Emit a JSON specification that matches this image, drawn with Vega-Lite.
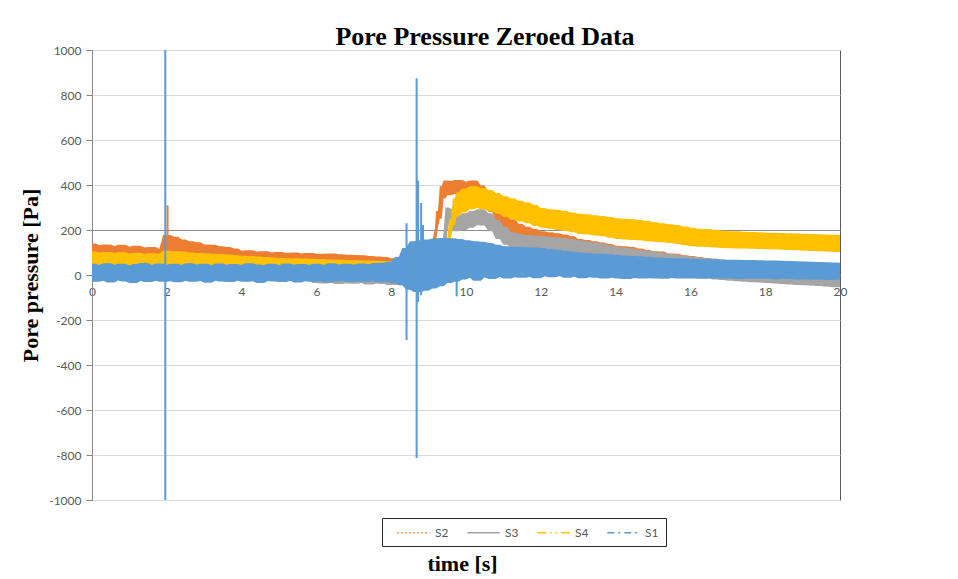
{
  "$schema": "https://vega.github.io/schema/vega-lite/v6.json",
  "width": 748,
  "height": 450,
  "autosize": "none",
  "padding": {"left": 92, "top": 50, "right": 118, "bottom": 79},
  "background": "white",
  "title": {"text": "Pore Pressure Zeroed Data", "font": "Liberation Serif", "fontSize": 26, "fontWeight": "bold", "color": "black", "anchor": "middle", "frame": "group", "dx": 19, "dy": 28, "offset": 1, "baseline": "alphabetic"},
  "config": {"view": {"stroke": "#595959", "strokeWidth": 1}},
  "datasets": {
    "noise": [
      {"t":0.0,"S1":50,"S2":140,"S3":-20,"S4":104},
      {"t":0.1,"S1":-30,"S2":86,"S3":32,"S4":36},
      {"t":0.2,"S1":44,"S2":132,"S3":-24,"S4":100},
      {"t":0.3,"S1":-26,"S2":90,"S3":28,"S4":40},
      {"t":0.4,"S1":52,"S2":136,"S3":-18,"S4":102},
      {"t":0.5,"S1":-33,"S2":84,"S3":30,"S4":34},
      {"t":0.6,"S1":46,"S2":128,"S3":-22,"S4":98},
      {"t":0.7,"S1":-24,"S2":88,"S3":26,"S4":38},
      {"t":0.8,"S1":50,"S2":134,"S3":-20,"S4":101},
      {"t":0.9,"S1":-29,"S2":82,"S3":31,"S4":35},
      {"t":1.0,"S1":42,"S2":126,"S3":-25,"S4":96},
      {"t":1.1,"S1":-35,"S2":86,"S3":27,"S4":37},
      {"t":1.2,"S1":49,"S2":130,"S3":-19,"S4":99},
      {"t":1.3,"S1":-27,"S2":84,"S3":29,"S4":33},
      {"t":1.4,"S1":53,"S2":122,"S3":-23,"S4":95},
      {"t":1.5,"S1":-31,"S2":80,"S3":25,"S4":36},
      {"t":1.6,"S1":45,"S2":124,"S3":-21,"S4":97},
      {"t":1.7,"S1":-25,"S2":82,"S3":30,"S4":32},
      {"t":1.8,"S1":51,"S2":116,"S3":-18,"S4":93},
      {"t":1.9,"S1":-30,"S2":78,"S3":27,"S4":34},
      {"t":2.0,"S1":46,"S2":178,"S3":-22,"S4":108},
      {"t":2.1,"S1":-28,"S2":95,"S3":28,"S4":40},
      {"t":2.2,"S1":50,"S2":170,"S3":-20,"S4":106},
      {"t":2.3,"S1":-32,"S2":92,"S3":30,"S4":36},
      {"t":2.4,"S1":44,"S2":158,"S3":-24,"S4":104},
      {"t":2.5,"S1":-26,"S2":90,"S3":26,"S4":38},
      {"t":2.6,"S1":52,"S2":150,"S3":-19,"S4":100},
      {"t":2.7,"S1":-30,"S2":86,"S3":29,"S4":34},
      {"t":2.8,"S1":47,"S2":146,"S3":-22,"S4":98},
      {"t":2.9,"S1":-27,"S2":88,"S3":27,"S4":36},
      {"t":3.0,"S1":50,"S2":136,"S3":-20,"S4":97},
      {"t":3.1,"S1":-34,"S2":84,"S3":31,"S4":32},
      {"t":3.2,"S1":43,"S2":134,"S3":-23,"S4":95},
      {"t":3.3,"S1":-25,"S2":82,"S3":26,"S4":35},
      {"t":3.4,"S1":51,"S2":128,"S3":-19,"S4":93},
      {"t":3.5,"S1":-29,"S2":80,"S3":28,"S4":30},
      {"t":3.6,"S1":46,"S2":124,"S3":-24,"S4":91},
      {"t":3.7,"S1":-31,"S2":78,"S3":25,"S4":33},
      {"t":3.8,"S1":49,"S2":118,"S3":-21,"S4":89},
      {"t":3.9,"S1":-26,"S2":76,"S3":29,"S4":28},
      {"t":4.0,"S1":44,"S2":108,"S3":-20,"S4":86},
      {"t":4.1,"S1":-30,"S2":74,"S3":27,"S4":30},
      {"t":4.2,"S1":52,"S2":110,"S3":-23,"S4":84},
      {"t":4.3,"S1":-28,"S2":72,"S3":25,"S4":26},
      {"t":4.4,"S1":47,"S2":104,"S3":-19,"S4":82},
      {"t":4.5,"S1":-36,"S2":70,"S3":28,"S4":28},
      {"t":4.6,"S1":45,"S2":106,"S3":-22,"S4":80},
      {"t":4.7,"S1":-27,"S2":70,"S3":26,"S4":25},
      {"t":4.8,"S1":50,"S2":100,"S3":-21,"S4":78},
      {"t":4.9,"S1":-29,"S2":68,"S3":29,"S4":27},
      {"t":5.0,"S1":43,"S2":102,"S3":-24,"S4":76},
      {"t":5.1,"S1":-31,"S2":66,"S3":24,"S4":22},
      {"t":5.2,"S1":51,"S2":98,"S3":-20,"S4":75},
      {"t":5.3,"S1":-26,"S2":66,"S3":27,"S4":24},
      {"t":5.4,"S1":46,"S2":100,"S3":-22,"S4":74},
      {"t":5.5,"S1":-33,"S2":64,"S3":25,"S4":21},
      {"t":5.6,"S1":49,"S2":96,"S3":-19,"S4":73},
      {"t":5.7,"S1":-28,"S2":64,"S3":28,"S4":23},
      {"t":5.8,"S1":44,"S2":98,"S3":-23,"S4":72},
      {"t":5.9,"S1":-30,"S2":62,"S3":26,"S4":20},
      {"t":6.0,"S1":50,"S2":95,"S3":-36,"S4":71},
      {"t":6.1,"S1":-27,"S2":62,"S3":28,"S4":19},
      {"t":6.2,"S1":45,"S2":94,"S3":-38,"S4":70},
      {"t":6.3,"S1":-32,"S2":60,"S3":25,"S4":21},
      {"t":6.4,"S1":52,"S2":96,"S3":-35,"S4":69},
      {"t":6.5,"S1":-29,"S2":60,"S3":30,"S4":18},
      {"t":6.6,"S1":47,"S2":92,"S3":-40,"S4":68},
      {"t":6.7,"S1":-26,"S2":58,"S3":26,"S4":16},
      {"t":6.8,"S1":50,"S2":90,"S3":-37,"S4":67},
      {"t":6.9,"S1":-31,"S2":58,"S3":28,"S4":18},
      {"t":7.0,"S1":46,"S2":89,"S3":-39,"S4":66},
      {"t":7.1,"S1":-28,"S2":56,"S3":25,"S4":14},
      {"t":7.2,"S1":51,"S2":88,"S3":-36,"S4":65},
      {"t":7.3,"S1":-30,"S2":56,"S3":29,"S4":15},
      {"t":7.4,"S1":48,"S2":84,"S3":-42,"S4":64},
      {"t":7.5,"S1":-27,"S2":54,"S3":26,"S4":12},
      {"t":7.6,"S1":53,"S2":82,"S3":-38,"S4":63},
      {"t":7.7,"S1":-32,"S2":54,"S3":28,"S4":13},
      {"t":7.8,"S1":55,"S2":80,"S3":-40,"S4":62},
      {"t":7.9,"S1":-30,"S2":52,"S3":27,"S4":10},
      {"t":8.0,"S1":60,"S2":74,"S3":-44,"S4":61},
      {"t":8.1,"S1":-35,"S2":50,"S3":30,"S4":12},
      {"t":8.2,"S1":80,"S2":72,"S3":-42,"S4":60},
      {"t":8.3,"S1":-45,"S2":50,"S3":32,"S4":10},
      {"t":8.4,"S1":120,"S2":70,"S3":-45,"S4":62},
      {"t":8.5,"S1":-65,"S2":48,"S3":35,"S4":8},
      {"t":8.6,"S1":150,"S2":72,"S3":-46,"S4":62},
      {"t":8.7,"S1":-75,"S2":48,"S3":34,"S4":6},
      {"t":8.8,"S1":155,"S2":70,"S3":-45,"S4":60},
      {"t":8.9,"S1":-70,"S2":46,"S3":36,"S4":8},
      {"t":9.0,"S1":158,"S2":72,"S3":-44,"S4":62},
      {"t":9.1,"S1":-60,"S2":48,"S3":38,"S4":6},
      {"t":9.17,"S2":150},
      {"t":9.2,"S1":162,"S2":210,"S3":-40,"S4":60},
      {"t":9.25,"S2":285},
      {"t":9.3,"S1":-50,"S2":250,"S3":40,"S4":5},
      {"t":9.35,"S2":395},
      {"t":9.4,"S1":165,"S2":340,"S3":-35,"S4":62},
      {"t":9.45,"S2":420,"S3":190},
      {"t":9.5,"S1":-35,"S2":355,"S3":300,"S4":40},
      {"t":9.55,"S3":230,"S4":160},
      {"t":9.6,"S1":163,"S2":418,"S3":295,"S4":250},
      {"t":9.65,"S4":220},
      {"t":9.7,"S1":-30,"S2":360,"S3":195,"S4":340},
      {"t":9.75,"S4":260},
      {"t":9.8,"S1":160,"S2":422,"S3":262,"S4":368},
      {"t":9.9,"S1":-20,"S2":355,"S3":200,"S4":278},
      {"t":10.0,"S1":155,"S2":415,"S3":275,"S4":385},
      {"t":10.1,"S1":-12,"S2":358,"S3":210,"S4":292},
      {"t":10.2,"S1":150,"S2":420,"S3":285,"S4":395},
      {"t":10.3,"S1":-25,"S2":350,"S3":222,"S4":298},
      {"t":10.4,"S1":148,"S2":398,"S3":292,"S4":388},
      {"t":10.5,"S1":-10,"S2":320,"S3":220,"S4":292},
      {"t":10.6,"S1":142,"S2":368,"S3":275,"S4":378},
      {"t":10.7,"S1":-18,"S2":280,"S3":195,"S4":282},
      {"t":10.8,"S1":135,"S2":330,"S3":245,"S4":365},
      {"t":10.9,"S1":-8,"S2":235,"S3":160,"S4":272},
      {"t":11.0,"S1":128,"S2":290,"S3":215,"S4":350},
      {"t":11.1,"S1":-15,"S2":200,"S3":135,"S4":258},
      {"t":11.2,"S1":126,"S2":252,"S3":190,"S4":340},
      {"t":11.3,"S1":-10,"S2":170,"S3":120,"S4":245},
      {"t":11.4,"S1":124,"S2":228,"S3":182,"S4":330},
      {"t":11.5,"S1":-12,"S2":155,"S3":115,"S4":238},
      {"t":11.6,"S1":123,"S2":215,"S3":178,"S4":322},
      {"t":11.7,"S1":-9,"S2":145,"S3":110,"S4":230},
      {"t":11.8,"S1":122,"S2":205,"S3":176,"S4":312},
      {"t":11.9,"S1":-14,"S2":135,"S3":105,"S4":218},
      {"t":12.0,"S1":120,"S2":195,"S3":175,"S4":298},
      {"t":12.1,"S1":-6,"S2":128,"S3":98,"S4":210},
      {"t":12.2,"S1":115,"S2":190,"S3":170,"S4":292},
      {"t":12.3,"S1":-10,"S2":124,"S3":96,"S4":206},
      {"t":12.4,"S1":112,"S2":186,"S3":168,"S4":290},
      {"t":12.5,"S1":-4,"S2":118,"S3":92,"S4":200},
      {"t":12.6,"S1":108,"S2":180,"S3":164,"S4":284},
      {"t":12.7,"S1":-12,"S2":112,"S3":88,"S4":196},
      {"t":12.8,"S1":104,"S2":172,"S3":160,"S4":278},
      {"t":12.9,"S1":-8,"S2":100,"S3":84,"S4":190},
      {"t":13.0,"S1":100,"S2":160,"S3":155,"S4":272},
      {"t":13.1,"S1":-14,"S2":96,"S3":78,"S4":182},
      {"t":13.2,"S1":98,"S2":156,"S3":150,"S4":270},
      {"t":13.3,"S1":-10,"S2":88,"S3":74,"S4":180},
      {"t":13.4,"S1":96,"S2":150,"S3":144,"S4":266},
      {"t":13.5,"S1":-12,"S2":80,"S3":70,"S4":176},
      {"t":13.6,"S1":94,"S2":144,"S3":140,"S4":262},
      {"t":13.7,"S1":-16,"S2":72,"S3":64,"S4":172},
      {"t":13.8,"S1":92,"S2":138,"S3":132,"S4":258},
      {"t":13.9,"S1":-12,"S2":62,"S3":56,"S4":166},
      {"t":14.0,"S1":89,"S2":130,"S3":126,"S4":252},
      {"t":14.1,"S1":-15,"S2":54,"S3":48,"S4":160},
      {"t":14.2,"S1":87,"S2":128,"S3":122,"S4":250},
      {"t":14.3,"S1":-18,"S2":50,"S3":45,"S4":158},
      {"t":14.4,"S1":85,"S2":124,"S3":118,"S4":248},
      {"t":14.5,"S1":-13,"S2":46,"S3":40,"S4":156},
      {"t":14.6,"S1":83,"S2":118,"S3":112,"S4":244},
      {"t":14.7,"S1":-16,"S2":40,"S3":34,"S4":154},
      {"t":14.8,"S1":81,"S2":112,"S3":108,"S4":240},
      {"t":14.9,"S1":-14,"S2":36,"S3":26,"S4":150},
      {"t":15.0,"S1":78,"S2":106,"S3":104,"S4":234},
      {"t":15.1,"S1":-15,"S2":30,"S3":20,"S4":148},
      {"t":15.2,"S1":77,"S2":104,"S3":100,"S4":230},
      {"t":15.3,"S1":-17,"S2":26,"S3":15,"S4":146},
      {"t":15.4,"S1":76,"S2":96,"S3":94,"S4":226},
      {"t":15.5,"S1":-13,"S2":22,"S3":10,"S4":142},
      {"t":15.6,"S1":75,"S2":94,"S3":90,"S4":222},
      {"t":15.7,"S1":-16,"S2":16,"S3":4,"S4":138},
      {"t":15.8,"S1":74,"S2":88,"S3":86,"S4":216},
      {"t":15.9,"S1":-15,"S2":10,"S3":-4,"S4":132},
      {"t":16.0,"S1":72,"S2":84,"S3":81,"S4":210},
      {"t":16.1,"S1":-15,"S2":4,"S3":-10,"S4":128},
      {"t":16.2,"S1":71,"S2":80,"S3":78,"S4":206},
      {"t":16.3,"S1":-17,"S2":0,"S3":-14,"S4":126},
      {"t":16.4,"S1":71,"S2":76,"S3":75,"S4":204},
      {"t":16.5,"S1":-14,"S2":-4,"S3":-16,"S4":124},
      {"t":16.6,"S1":70,"S2":72,"S3":72,"S4":201},
      {"t":16.7,"S1":-16,"S2":-8,"S3":-20,"S4":122},
      {"t":16.8,"S1":69,"S2":68,"S3":68,"S4":198},
      {"t":16.9,"S1":-15,"S2":-12,"S3":-22,"S4":120},
      {"t":17.0,"S1":68,"S2":64,"S3":65,"S4":195},
      {"t":17.1,"S1":-16,"S2":-16,"S3":-26,"S4":119},
      {"t":17.2,"S1":68,"S2":62,"S3":62,"S4":194},
      {"t":17.3,"S1":-18,"S2":-18,"S3":-28,"S4":118},
      {"t":17.4,"S1":67,"S2":58,"S3":60,"S4":192},
      {"t":17.5,"S1":-15,"S2":-22,"S3":-30,"S4":118},
      {"t":17.6,"S1":67,"S2":56,"S3":56,"S4":191},
      {"t":17.7,"S1":-17,"S2":-24,"S3":-32,"S4":117},
      {"t":17.8,"S1":66,"S2":52,"S3":54,"S4":190},
      {"t":17.9,"S1":-16,"S2":-28,"S3":-33,"S4":116},
      {"t":18.0,"S1":65,"S2":50,"S3":50,"S4":188},
      {"t":18.1,"S1":-17,"S2":-30,"S3":-36,"S4":115},
      {"t":18.2,"S1":64,"S2":48,"S3":48,"S4":188},
      {"t":18.3,"S1":-19,"S2":-32,"S3":-38,"S4":114},
      {"t":18.4,"S1":63,"S2":46,"S3":46,"S4":187},
      {"t":18.5,"S1":-17,"S2":-34,"S3":-40,"S4":112},
      {"t":18.6,"S1":62,"S2":44,"S3":44,"S4":186},
      {"t":18.7,"S1":-18,"S2":-38,"S3":-42,"S4":111},
      {"t":18.8,"S1":61,"S2":40,"S3":42,"S4":185},
      {"t":18.9,"S1":-20,"S2":-40,"S3":-44,"S4":110},
      {"t":19.0,"S1":60,"S2":38,"S3":40,"S4":183},
      {"t":19.1,"S1":-19,"S2":-43,"S3":-46,"S4":108},
      {"t":19.2,"S1":59,"S2":36,"S3":38,"S4":182},
      {"t":19.3,"S1":-21,"S2":-45,"S3":-47,"S4":107},
      {"t":19.4,"S1":58,"S2":34,"S3":36,"S4":181},
      {"t":19.5,"S1":-20,"S2":-48,"S3":-49,"S4":106},
      {"t":19.6,"S1":57,"S2":32,"S3":34,"S4":180},
      {"t":19.7,"S1":-22,"S2":-50,"S3":-51,"S4":104},
      {"t":19.8,"S1":56,"S2":30,"S3":32,"S4":179},
      {"t":19.9,"S1":-21,"S2":-53,"S3":-54,"S4":102},
      {"t":20.0,"S1":55,"S2":28,"S3":30,"S4":178}
    ],
    "spikes": [
      {"t":2.02,"series":"S2","lo":150,"hi":310},
      {"t":1.96,"series":"S1","lo":-1000,"hi":1000},
      {"t":8.41,"series":"S1","lo":-289,"hi":230},
      {"t":8.68,"series":"S1","lo":-813,"hi":875},
      {"t":8.72,"series":"S1","lo":-120,"hi":420},
      {"t":8.8,"series":"S1","lo":-90,"hi":320},
      {"t":8.85,"series":"S1","lo":-60,"hi":222},
      {"t":9.75,"series":"S1","lo":-95,"hi":0}
    ]
  },
  "layer": [
    {
      "data": {"name": "noise"},
      "transform": [
        {"fold": ["S2", "S3", "S4", "S1"], "as": ["series", "value"]},
        {"filter": "isValid(datum.value)"},
        {"window": [{"op": "max", "field": "value", "as": "hi"}, {"op": "min", "field": "value", "as": "lo"}], "frame": [-1, 1], "groupby": ["series"], "sort": [{"field": "t"}]}
      ],
      "mark": {"type": "area", "clip": true, "interpolate": "linear", "opacity": 1},
      "encoding": {
        "x": {
          "field": "t", "type": "quantitative",
          "scale": {"domain": [0, 20], "nice": false},
          "axis": {
            "values": [0, 2, 4, 6, 8, 10, 12, 14, 16, 18, 20],
            "offset": -225, "grid": false, "ticks": false,
            "domainColor": "#868686",
            "labelFont": "Lato", "labelFontSize": 12, "labelColor": "#595959", "labelPadding": 11,
            "labelFlush": false, "labelOverlap": false,
            "title": "time [s]", "titleFont": "Liberation Serif", "titleFontSize": 22, "titleFontWeight": "bold", "titleColor": "black",
            "titleX": 370, "titleY": 295, "titleBaseline": "alphabetic", "titleAlign": "center"
          }
        },
        "y": {
          "field": "hi", "type": "quantitative",
          "scale": {"domain": [-1000, 1000], "nice": false},
          "axis": {
            "values": [-1000, -800, -600, -400, -200, 0, 200, 400, 600, 800, 1000],
            "labelExpr": "'' + datum.value",
            "grid": true,
            "gridColor": {"condition": {"test": "datum.value === 200", "value": "#8c8c8c"}, "value": "#d9d9d9"},
            "domainColor": "#868686", "tickColor": "#868686", "tickSize": 6,
            "labelFont": "Lato", "labelFontSize": 12, "labelColor": "#595959", "labelPadding": 5,
            "title": "Pore pressure [Pa]", "titleFont": "Liberation Serif", "titleFontSize": 22, "titleFontWeight": "bold", "titleColor": "black",
            "titleX": -62, "titleY": 225, "titleAngle": -90, "titleBaseline": "middle", "titleAlign": "center"
          }
        },
        "y2": {"field": "lo"},
        "color": {
          "field": "series", "type": "nominal",
          "scale": {"domain": ["S2", "S3", "S4", "S1"], "range": ["#ED7D31", "#A5A5A5", "#FFC000", "#5B9BD5"]},
          "legend": {
            "orient": "none", "legendX": 290, "legendY": 468,
            "direction": "horizontal", "columns": 4, "title": null,
            "symbolType": "M-2.5,0L2.5,0", "symbolSize": 169, "symbolStrokeWidth": 1.5, "symbolOffset": 17,
            "symbolDash": {"expr": "datum.value === 'S2' ? [1.5, 2.5] : datum.value === 'S4' ? [9, 4, 1.5, 4, 1.5, 4] : datum.value === 'S1' ? [7, 4, 2, 4] : [1, 0]"},
            "labelFont": "Lato", "labelFontSize": 12, "labelColor": "#595959", "labelOffset": 14,
            "strokeColor": "#262626", "padding": 7, "columnPadding": 10
          }
        }
      }
    },
    {
      "data": {"name": "spikes"},
      "mark": {"type": "rule", "strokeWidth": 2, "clip": true},
      "encoding": {
        "x": {"field": "t", "type": "quantitative"},
        "y": {"field": "lo", "type": "quantitative"},
        "y2": {"field": "hi"},
        "color": {"field": "series", "type": "nominal"}
      }
    }
  ]
}
